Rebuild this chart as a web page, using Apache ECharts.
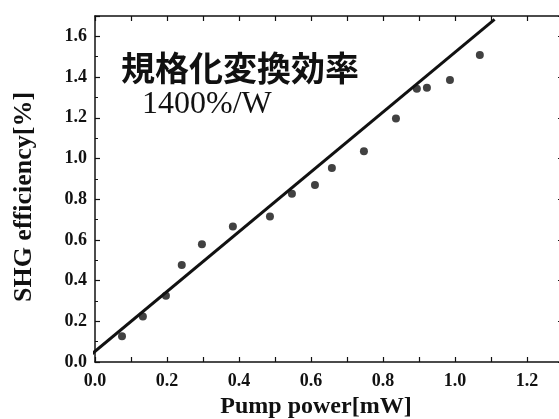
<!DOCTYPE html>
<html><head><meta charset="utf-8">
<script src="https://cdn.jsdelivr.net/npm/echarts@6/dist/echarts.min.js"></script>
<style>html,body{margin:0;padding:0;background:#fff}#c{width:559px;height:419px}</style>
</head><body><div id="c"></div>
<script>
const pumpPower = [0.075, 0.133, 0.197, 0.241, 0.297, 0.383, 0.486, 0.547, 0.611, 0.658, 0.747, 0.836, 0.894, 0.922, 0.986, 1.069];
const shgEff    = [0.126, 0.224, 0.326, 0.477, 0.579, 0.666, 0.715, 0.827, 0.870, 0.953, 1.036, 1.196, 1.342, 1.347, 1.386, 1.508];
const fitX = [-0.02, 1.11];
const fitY = [0.023, 1.683];
const xTicks = [0.0, 0.2, 0.4, 0.6, 0.8, 1.0, 1.2];
const yTicks = [0.0, 0.2, 0.4, 0.6, 0.8, 1.0, 1.2, 1.4, 1.6];
const annoTitle = '規格化変換効率';
const annoValue = '1400%/W';

const ink = '#111';
const serif = '"Liberation Serif", "Times New Roman", serif';
const chart = echarts.init(document.getElementById('c'), null, {renderer: 'canvas'});

function axisCommon(show) {
  return {
    axisLine: {show: true, onZero: false, lineStyle: {color: ink, width: 1.5}},
    axisTick: {show: true, inside: true, length: 5, lineStyle: {color: ink, width: 1.2}},
    minorTick: {show: true, splitNumber: 2, length: 3, lineStyle: {color: ink, width: 1}},
    splitLine: {show: false},
    axisLabel: {show: show, color: ink, fontFamily: serif, fontWeight: 'bold', fontSize: 18}
  };
}

const option = {
  animation: false,
  backgroundColor: '#fff',
  grid: {left: 95, top: 16, width: 468, height: 346, containLabel: false, outerBoundsMode: 'none'},
  xAxis: [
    Object.assign({type: 'value', position: 'bottom', min: 0, max: 1.3, interval: 0.1,
      name: 'Pump power[mW]', nameLocation: 'middle', nameGap: 32,
      nameTextStyle: {color: ink, fontFamily: serif, fontWeight: 'bold', fontSize: 24, padding: [0, 26, 0, 0]}},
      axisCommon(true), {
        axisLabel: {color: ink, fontFamily: serif, fontWeight: 'bold', fontSize: 18, margin: 10,
          formatter: v => { const r = Math.round(v * 10) / 10; return xTicks.some(t => Math.abs(t - r) < 1e-6) ? r.toFixed(1) : ''; }},
        minorTick: {show: false}
      }),
    Object.assign({type: 'value', position: 'top', min: 0, max: 1.3, interval: 0.1}, axisCommon(false), {minorTick: {show: false}})
  ],
  yAxis: [
    Object.assign({type: 'value', position: 'left', min: 0, max: 1.7, interval: 0.2,
      name: 'SHG efficiency[%]', nameLocation: 'middle', nameGap: 58, nameRotate: 90,
      nameTextStyle: {color: ink, fontFamily: serif, fontWeight: 'bold', fontSize: 26, padding: [0, 16, 0, 0]}},
      axisCommon(true), {
        axisLabel: {color: ink, fontFamily: serif, fontWeight: 'bold', fontSize: 18, margin: 8,
          formatter: v => yTicks.some(t => Math.abs(t - v) < 1e-6) ? v.toFixed(1) : ''}
      }),
    Object.assign({type: 'value', position: 'right', min: 0, max: 1.7, interval: 0.2}, axisCommon(false))
  ],
  series: [
    {type: 'line', xAxisIndex: 0, yAxisIndex: 0, clip: false, symbol: 'none',
      data: fitX.map((x, i) => [x, fitY[i]]),
      lineStyle: {color: ink, width: 3}, z: 3},
    {type: 'scatter', xAxisIndex: 0, yAxisIndex: 0, symbol: 'circle', symbolSize: 8,
      data: pumpPower.map((x, i) => [x, shgEff[i]]),
      itemStyle: {color: ink}, z: 4}
  ],
  graphic: [
    {type: 'text', left: 121, top: 51, style: {text: annoTitle, fill: ink, font: 'bold 34px "Noto Sans CJK JP"'}},
    {type: 'text', left: 142, top: 89, style: {text: annoValue, fill: ink, font: '32px "Liberation Serif"'}}
  ]
};
chart.setOption(option);
</script></body></html>
